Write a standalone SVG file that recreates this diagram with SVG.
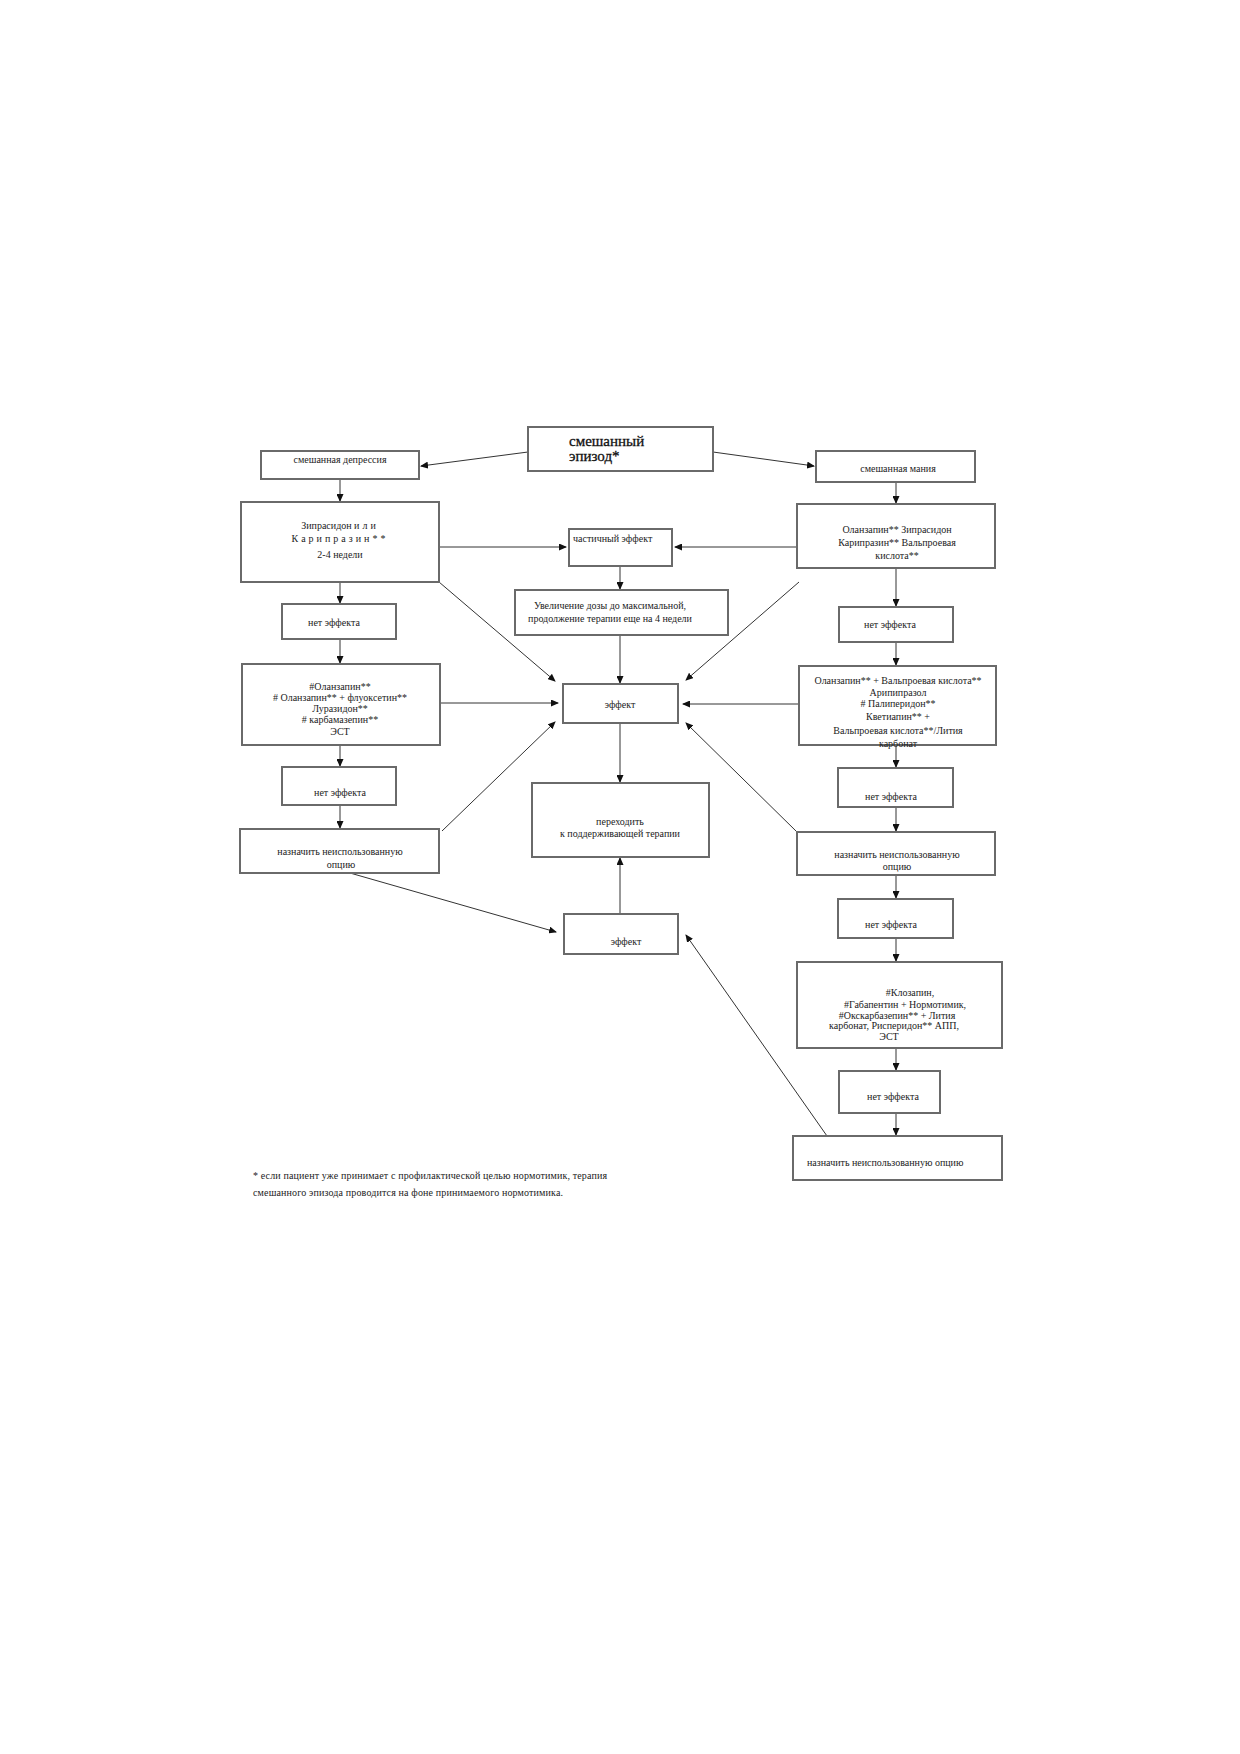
<svg xmlns="http://www.w3.org/2000/svg" width="1240" height="1754" viewBox="0 0 1240 1754">
<style>
.box{fill:#fff;stroke:#6a6a6a;stroke-width:2}
.t{font-family:"Liberation Serif",serif;font-size:10px;fill:#222;text-anchor:middle}
.ts{font-family:"Liberation Serif",serif;font-size:10px;fill:#222}
.big{font-family:"Liberation Serif",serif;font-size:15px;fill:#111;stroke:#111;stroke-width:0.3}
.c{stroke:#333;stroke-width:1;fill:none;marker-end:url(#ah)}
</style>
<defs>
<marker id="ah" markerUnits="userSpaceOnUse" markerWidth="8" markerHeight="7" refX="7" refY="3.5" orient="auto">
<path d="M0,0 L8,3.5 L0,7 z" fill="#111"/>
</marker>
</defs>
<rect width="1240" height="1754" fill="#fff"/>

<g id="connectors">
<line class="c" x1="528" y1="452" x2="421" y2="466"/>
<line class="c" x1="713" y1="452" x2="814" y2="466"/>
<line class="c" x1="340" y1="479" x2="340" y2="501"/>
<line class="c" x1="896" y1="482" x2="896" y2="503"/>
<line class="c" x1="439" y1="547" x2="566" y2="547"/>
<line class="c" x1="797" y1="547" x2="675" y2="547"/>
<line class="c" x1="620" y1="566" x2="620" y2="589"/>
<line class="c" x1="340" y1="582" x2="340" y2="603"/>
<line class="c" x1="896" y1="568" x2="896" y2="606"/>
<line class="c" x1="439" y1="582" x2="555" y2="681"/>
<line class="c" x1="799" y1="582" x2="686" y2="680"/>
<line class="c" x1="620" y1="635" x2="620" y2="683"/>
<line class="c" x1="340" y1="639" x2="340" y2="663"/>
<line class="c" x1="896" y1="642" x2="896" y2="665"/>
<line class="c" x1="440" y1="703" x2="558" y2="703"/>
<line class="c" x1="799" y1="704" x2="683" y2="704"/>
<line class="c" x1="620" y1="723" x2="620" y2="782"/>
<line class="c" x1="340" y1="745" x2="340" y2="766"/>
<line class="c" x1="896" y1="745" x2="896" y2="767"/>
<line class="c" x1="340" y1="805" x2="340" y2="828"/>
<line class="c" x1="896" y1="807" x2="896" y2="831"/>
<line class="c" x1="442" y1="831" x2="555" y2="722"/>
<line class="c" x1="797" y1="832" x2="686" y2="723"/>
<line class="c" x1="350" y1="873" x2="556" y2="932"/>
<line class="c" x1="620" y1="914" x2="620" y2="858"/>
<line class="c" x1="896" y1="875" x2="896" y2="898"/>
<line class="c" x1="896" y1="938" x2="896" y2="961"/>
<line class="c" x1="896" y1="1048" x2="896" y2="1070"/>
<line class="c" x1="896" y1="1113" x2="896" y2="1135"/>
<line class="c" x1="827" y1="1136" x2="686" y2="935"/>
</g>

<g id="n-episode">
<rect class="box" x="528" y="427" width="185" height="44"/>
<text class="big" x="569" y="446">смешанный</text>
<text class="big" x="569" y="461">эпизод*</text>
</g>
<g id="n-dep">
<rect class="box" x="261" y="451" width="158" height="28"/>
<text class="t" x="340" y="463">смешанная депрессия</text>
</g>
<g id="n-mania">
<rect class="box" x="816" y="451" width="159" height="31"/>
<text class="t" x="898" y="472">смешанная мания</text>
</g>
<g id="n-zip">
<rect class="box" x="241" y="502" width="198" height="80"/>
<text class="t" x="340" y="529">Зипрасидон <tspan letter-spacing="3">или</tspan></text>
<text class="t" x="340" y="542" letter-spacing="3">Карипразин**</text>
<text class="t" x="340" y="558">2-4 недели</text>
</g>
<g id="n-partial">
<rect class="box" x="569" y="529" width="103" height="37"/>
<text class="ts" x="573" y="542">частичный эффект</text>
</g>
<g id="n-right1">
<rect class="box" x="797" y="504" width="198" height="64"/>
<text class="t" x="897" y="533">Оланзапин** Зипрасидон</text>
<text class="t" x="897" y="546">Карипразин** Вальпроевая</text>
<text class="t" x="897" y="559">кислота**</text>
</g>
<g id="n-increase">
<rect class="box" x="515" y="590" width="213" height="45"/>
<text class="t" x="610" y="609">Увеличение дозы до максимальной,</text>
<text class="t" x="610" y="622">продолжение терапии еще на 4 недели</text>
</g>
<g id="n-noeff-l1">
<rect class="box" x="282" y="604" width="114" height="35"/>
<text class="t" x="334" y="626">нет эффекта</text>
</g>
<g id="n-noeff-r1">
<rect class="box" x="839" y="607" width="114" height="35"/>
<text class="t" x="890" y="628">нет эффекта</text>
</g>
<g id="n-left2">
<rect class="box" x="242" y="664" width="198" height="81"/>
<text class="t" x="340" y="690">#Оланзапин**</text>
<text class="t" x="340" y="701"># Оланзапин** + флуоксетин**</text>
<text class="t" x="340" y="712">Луразидон**</text>
<text class="t" x="340" y="723"># карбамазепин**</text>
<text class="t" x="340" y="735">ЭСТ</text>
</g>
<g id="n-effect1">
<rect class="box" x="563" y="684" width="115" height="39"/>
<text class="t" x="620" y="708">эффект</text>
</g>
<g id="n-right2">
<rect class="box" x="799" y="666" width="197" height="79"/>
<text class="t" x="898" y="684">Оланзапин** + Вальпроевая кислота**</text>
<text class="t" x="898" y="696">Арипипразол</text>
<text class="t" x="898" y="707"># Палиперидон**</text>
<text class="t" x="898" y="720">Кветиапин** +</text>
<text class="t" x="898" y="734">Вальпроевая кислота**/Лития</text>
<text class="t" x="898" y="747">карбонат</text>
</g>
<g id="n-noeff-l2">
<rect class="box" x="282" y="767" width="114" height="38"/>
<text class="t" x="340" y="796">нет эффекта</text>
</g>
<g id="n-noeff-r2">
<rect class="box" x="838" y="768" width="115" height="39"/>
<text class="t" x="891" y="800">нет эффекта</text>
</g>
<g id="n-assign-l">
<rect class="box" x="240" y="829" width="199" height="44"/>
<text class="t" x="340" y="855">назначить неиспользованную</text>
<text class="t" x="341" y="868">опцию</text>
</g>
<g id="n-maint">
<rect class="box" x="532" y="783" width="177" height="74"/>
<text class="t" x="620" y="825">переходить</text>
<text class="t" x="620" y="837">к поддерживающей терапии</text>
</g>
<g id="n-assign-r">
<rect class="box" x="797" y="832" width="198" height="43"/>
<text class="t" x="897" y="858">назначить неиспользованную</text>
<text class="t" x="897" y="870">опцию</text>
</g>
<g id="n-noeff-r3">
<rect class="box" x="838" y="899" width="115" height="39"/>
<text class="t" x="891" y="928">нет эффекта</text>
</g>
<g id="n-effect2">
<rect class="box" x="564" y="914" width="114" height="40"/>
<text class="t" x="626" y="945">эффект</text>
</g>
<g id="n-right3">
<rect class="box" x="797" y="962" width="205" height="86"/>
<text class="t" x="910" y="996">#Клозапин,</text>
<text class="t" x="905" y="1008">#Габапентин + Нормотимик,</text>
<text class="t" x="897" y="1019">#Окскарбазепин** + Лития</text>
<text class="t" x="894" y="1029">карбонат, Рисперидон** АПП,</text>
<text class="t" x="889" y="1040">ЭСТ</text>
</g>
<g id="n-noeff-r4">
<rect class="box" x="839" y="1071" width="101" height="42"/>
<text class="t" x="893" y="1100">нет эффекта</text>
</g>
<g id="n-assign-b">
<rect class="box" x="793" y="1136" width="209" height="44"/>
<text class="ts" x="807" y="1166">назначить неиспользованную опцию</text>
</g>
<g id="footnote">
<text class="ts" x="253" y="1179" font-size="10.5" textLength="354" lengthAdjust="spacing">* если пациент уже принимает с профилактической целью нормотимик, терапия</text>
<text class="ts" x="253" y="1196" font-size="10.5" textLength="310" lengthAdjust="spacing">смешанного эпизода проводится на фоне принимаемого нормотимика.</text>
</g>
</svg>
